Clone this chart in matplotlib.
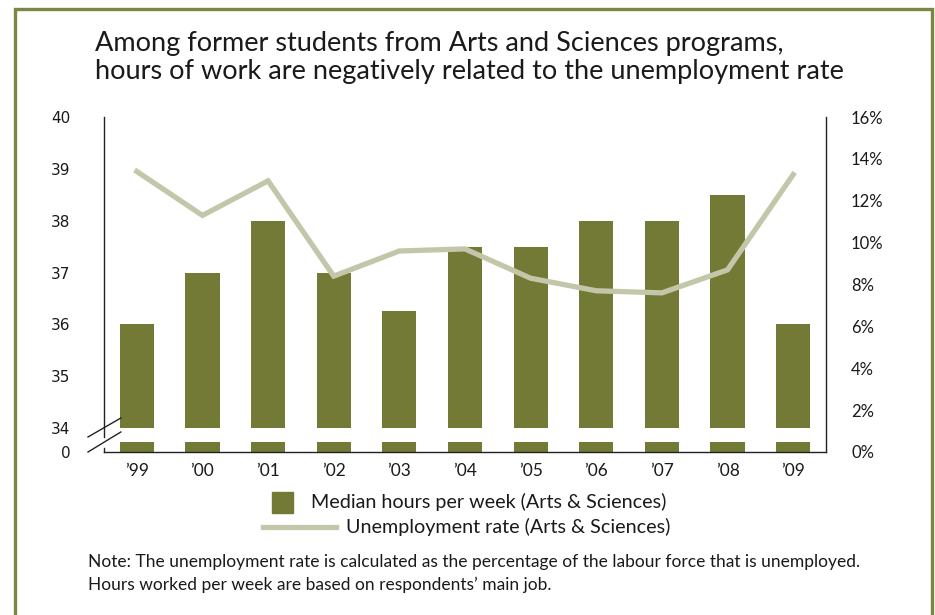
import matplotlib
matplotlib.use("Agg")
import matplotlib.pyplot as plt
from matplotlib.patches import Rectangle
from matplotlib.lines import Line2D
import matplotlib.transforms as mtransforms

# Data
years = ["\u201999", "\u201900", "\u201901", "\u201902", "\u201903", "\u201904",
         "\u201905", "\u201906", "\u201907", "\u201908", "\u201909"]
median_hours = [36, 37, 38, 37, 36.25, 37.5, 37.5, 38, 38, 38.5, 36]
unemployment_rate = [13.4, 11.3, 12.95, 8.4, 9.6, 9.7, 8.3, 7.7, 7.6, 8.7, 13.25]
hour_ticks = [34, 35, 36, 37, 38, 39, 40]
rate_ticks = [0, 2, 4, 6, 8, 10, 12, 14, 16]

BAR = "#737a35"
LINE = "#c3c6a9"
FRAME = "#7b8642"
TXT = "#1a1a1a"
FONT = "Lato"

W, H = 935, 615
fig = plt.figure(figsize=(W / 100, H / 100), dpi=100)
fig.patch.set_facecolor("white")

# axes box in pixels
x0, x1 = 104, 826
y_top, y_bot = 117, 452
ax = fig.add_axes([x0 / W, 1 - y_bot / H, (x1 - x0) / W, (y_bot - y_top) / H])

# Broken left axis: the "34" level sits a little above the true zero line
px_per_hour = (428 - y_top) / 6.0
y_floor = 34 - (y_bot - 428) / px_per_hour
ax.set_ylim(y_floor, 40)
ax.set_xlim(-0.5, len(years) - 0.5)

xs = list(range(len(years)))
bar_w = 0.52
ax.bar(xs, [h - 34 for h in median_hours], bottom=34, width=bar_w,
       color=BAR, zorder=2)
stub = 10 / px_per_hour
ax.bar(xs, [stub] * len(xs), bottom=y_floor, width=bar_w, color=BAR, zorder=2)

ax.set_yticks([y_floor] + hour_ticks)
ax.set_yticklabels(["0"] + [str(t) for t in hour_ticks],
                   family="DejaVu Sans", fontsize=11, color=TXT)
ax.tick_params(axis="y", length=0, pad=24)
ax.set_xticks(xs)
ax.set_xticklabels(years, family=FONT, fontsize=12.5, color=TXT)
ax.tick_params(axis="x", length=0, pad=8)

for s in ["top", "right", "left"]:
    ax.spines[s].set_visible(False)
ax.spines["bottom"].set_color("#222222")
ax.spines["bottom"].set_linewidth(1.0)

# left axis line with break marks
bt = mtransforms.blended_transform_factory(ax.transAxes, ax.transData)
ax.add_line(Line2D([0, 0], [34 - 0.18, 40], transform=bt, color="#222222",
                   lw=1.0, clip_on=False))
ax.add_line(Line2D([0, 0], [y_floor, y_floor + 0.08], transform=bt,
                   color="#222222", lw=1.0, clip_on=False))
dx = 16 / (x1 - x0)
ax.add_line(Line2D([-dx * 1.0, dx * 1.05], [y_floor + 15 / px_per_hour, y_floor + 34 / px_per_hour],
                   transform=bt, color="#222222", lw=1.0, clip_on=False))
ax.add_line(Line2D([-dx * 1.0, dx * 1.05], [y_floor, y_floor + 20 / px_per_hour],
                   transform=bt, color="#222222", lw=1.0, clip_on=False))

# right axis: unemployment rate
ax2 = ax.twinx()
ax2.set_ylim(0, 16)
ax2.plot(xs, unemployment_rate, color=LINE, lw=3.8, solid_joinstyle="miter",
         zorder=3)
ax2.set_yticks(rate_ticks)
ax2.set_yticklabels([f"{t}%" for t in rate_ticks], family=FONT,
                    fontsize=12, color=TXT)
ax2.tick_params(axis="y", length=0, pad=18)
for s in ["top", "left", "bottom"]:
    ax2.spines[s].set_visible(False)
ax2.spines["right"].set_color("#222222")
ax2.spines["right"].set_linewidth(1.0)

# title
fig.text(95 / W, 1 - 44 / H,
         "Among former students from Arts and Sciences programs,",
         family=FONT, fontsize=19.5, color=TXT, va="center", ha="left")
fig.text(95 / W, 1 - 71 / H,
         "hours of work are negatively related to the unemployment rate",
         family=FONT, fontsize=19.5, color=TXT, va="center", ha="left")

# legend
fig.patches.append(Rectangle((272 / W, 1 - 513 / H), 21 / W, 21 / H,
                             transform=fig.transFigure, color=BAR))
fig.text(311 / W, 1 - 502 / H, "Median hours per week (Arts & Sciences)",
         family=FONT, fontsize=14.2, color=TXT, va="center", ha="left")
fig.lines.append(Line2D([263 / W, 336 / W], [1 - 527 / H, 1 - 527 / H],
                        transform=fig.transFigure, color=LINE, lw=3.8))
fig.text(346 / W, 1 - 527 / H, "Unemployment rate (Arts & Sciences)",
         family=FONT, fontsize=14.2, color=TXT, va="center", ha="left")

# note
fig.text(88 / W, 1 - 562 / H,
         "Note: The unemployment rate is calculated as the percentage of the "
         "labour force that is unemployed.",
         family=FONT, fontsize=12.5, color=TXT, va="center", ha="left")
fig.text(88 / W, 1 - 585 / H,
         "Hours worked per week are based on respondents\u2019 main job.",
         family=FONT, fontsize=12.5, color=TXT, va="center", ha="left")

# frame
fig.patches.append(Rectangle((15 / W, -0.05), 917 / W, 1.05 - 8.5 / H,
                             transform=fig.transFigure, fill=False,
                             edgecolor=FRAME, lw=2.4))

fig.savefig("out.png", dpi=100, facecolor="white")
